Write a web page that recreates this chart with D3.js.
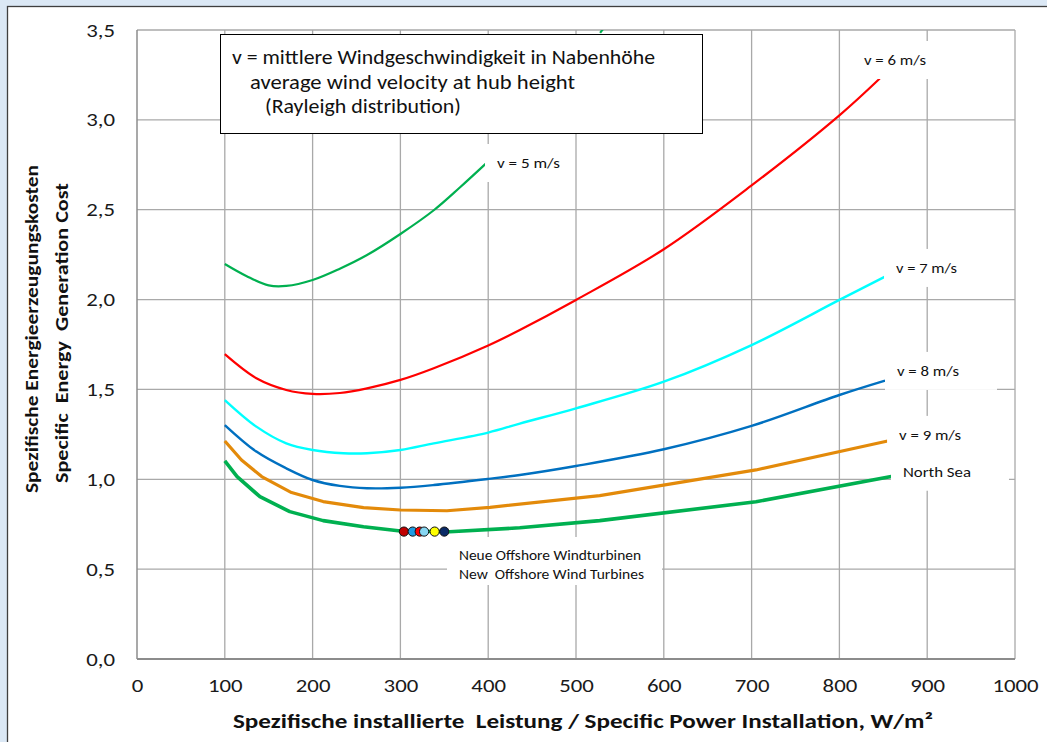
<!DOCTYPE html>
<html>
<head>
<meta charset="utf-8">
<script src="https://cdn.jsdelivr.net/npm/d3@7"></script>
<style>
  html, body { margin: 0; padding: 0; background: #dbe8f5; }
  svg { display: block; }
  text { font-family: Carlito, Calibri, Lato, "Open Sans", sans-serif; }
</style>
</head>
<body>
<svg id="chart" width="1047" height="742"></svg>
<script>
// ---------------- data ----------------
const xTicks = [0, 100, 200, 300, 400, 500, 600, 700, 800, 900, 1000];
const yTicks = [0, 0.5, 1.0, 1.5, 2.0, 2.5, 3.0, 3.5];

const v5 = [[100,2.198],[125,2.13],[150,2.079],[170,2.076],[200,2.109],[231,2.172],[262,2.248],[300,2.365],[338,2.497],[368,2.625],[397,2.755]];
const v6 = [[100,1.696],[136,1.562],[170,1.497],[200,1.475],[231,1.48],[262,1.506],[300,1.553],[338,1.618],[400,1.745],[436,1.831],[500,1.998],[600,2.28],[700,2.635],[800,3.025],[846,3.23]];
const v7 = [[100,1.441],[136,1.293],[170,1.2],[200,1.163],[235,1.145],[262,1.145],[300,1.163],[338,1.2],[400,1.26],[436,1.31],[500,1.395],[600,1.543],[700,1.747],[800,1.998],[852,2.128]];
const v8 = [[100,1.302],[136,1.154],[170,1.061],[200,0.996],[231,0.963],[262,0.95],[300,0.953],[338,0.968],[400,1.002],[436,1.024],[500,1.074],[600,1.167],[700,1.297],[800,1.469],[852,1.549]];
const v9 = [[100,1.213],[119,1.107],[142,1.015],[176,0.926],[212,0.876],[258,0.842],[300,0.829],[353,0.825],[402,0.844],[527,0.909],[705,1.052],[855,1.213]];
const northSea = [[100,1.102],[114,1.015],[140,0.903],[174,0.82],[212,0.77],[258,0.736],[300,0.712],[356,0.708],[436,0.730],[527,0.77],[705,0.875],[859,1.015]];
const stub = [[527.5,3.484],[533,3.52]];

const turbineX = [304, 314, 322, 327, 339, 350];
const turbineY = [0.709, 0.709, 0.709, 0.709, 0.709, 0.709];
const turbineColors = ["#c00000", "#1f9be2", "#ff0000", "#86d6f2", "#ffff00", "#0a2a66"];

const seriesLabels = ["v = 5 m/s", "v = 6 m/s", "v = 7 m/s", "v = 8 m/s", "v = 9 m/s", "North Sea"];
const labelX = [410, 828, 864.5, 865.6, 868, 872.4];
const labelY = [2.76, 3.333, 2.176, 1.603, 1.247, 1.042];

const legendLines = ["v = mittlere Windgeschwindigkeit in Nabenhöhe", "average wind velocity at hub height", "(Rayleigh distribution)"];
const noteLines = ["Neue Offshore Windturbinen", "New  Offshore Wind Turbines"];
const xTitle = "Spezifische installierte  Leistung / Specific Power Installation, W/m²";
const yTitle = ["Spezifische Energieerzeugungskosten", "Specific  Energy  Generation Cost"];

// ---------------- layout ----------------
const svg = d3.select("#chart");
const L = 137, R = 1015, T = 30, B = 659;
const x = d3.scaleLinear().domain([0, 1000]).range([L, R]);
const y = d3.scaleLinear().domain([0, 3.5]).range([B, T]);

function fitW(sel, w) {
  sel.attr("textLength", w).attr("lengthAdjust", "spacingAndGlyphs");
  return sel;
}

// background panel
svg.append("rect").attr("x", 0).attr("y", 0).attr("width", 1047).attr("height", 742).attr("fill", "#dbe8f5");
svg.append("rect").attr("x", 7.5).attr("y", 6.5).attr("width", 1060).attr("height", 760)
  .attr("fill", "#ffffff").attr("stroke", "#3f3f3f").attr("stroke-width", 1.3);

svg.append("defs").append("clipPath").attr("id", "plotclip")
  .append("rect").attr("x", L).attr("y", T).attr("width", R - L).attr("height", B - T);

// gridlines
const grid = svg.append("g");
grid.selectAll("line.v").data(xTicks.slice(1)).join("line")
  .attr("x1", d => x(d)).attr("x2", d => x(d)).attr("y1", T).attr("y2", B)
  .attr("stroke", "#a9a9a9").attr("stroke-width", 1.3);
grid.selectAll("line.h").data(yTicks.slice(1)).join("line")
  .attr("x1", L).attr("x2", R).attr("y1", d => y(d)).attr("y2", d => y(d))
  .attr("stroke", "#a9a9a9").attr("stroke-width", 1.3);
svg.append("line").attr("x1", L).attr("x2", L).attr("y1", T).attr("y2", B).attr("stroke", "#8c8c8c").attr("stroke-width", 1.5);
svg.append("line").attr("x1", L).attr("x2", R).attr("y1", B).attr("y2", B).attr("stroke", "#8c8c8c").attr("stroke-width", 2.2);

// axes tick labels
const fmt = d => d.toFixed(1).replace(".", ",");
const gx = svg.append("g").attr("transform", `translate(0,${B})`)
  .call(d3.axisBottom(x).tickValues(xTicks).tickSize(0).tickPadding(20).tickFormat(d3.format("d")));
const gy = svg.append("g").attr("transform", `translate(${L},0)`)
  .call(d3.axisLeft(y).tickValues(yTicks).tickSize(0).tickPadding(22).tickFormat(fmt));
[gx, gy].forEach(g => {
  g.select(".domain").remove();
  g.selectAll("text").attr("font-size", 19).attr("fill", "#1a1a1a")
    .style("font-family", "Carlito, Calibri, Lato, sans-serif")
    .each(function () {
      const w = this.getComputedTextLength();
      d3.select(this).attr("textLength", w * 1.2).attr("lengthAdjust", "spacingAndGlyphs");
    });
});

// curves
const smooth = d3.line().x(d => x(d[0])).y(d => y(d[1])).curve(d3.curveCatmullRom.alpha(0.5));
const straight = d3.line().x(d => x(d[0])).y(d => y(d[1]));
const curves = [
  {d: v5, c: "#00b050", w: 2.2, gen: smooth},
  {d: v6, c: "#ff0000", w: 2.2, gen: smooth},
  {d: v7, c: "#00ffff", w: 2.4, gen: smooth},
  {d: v8, c: "#0070c0", w: 2.4, gen: smooth},
  {d: v9, c: "#e38a0a", w: 3.2, gen: straight},
  {d: northSea, c: "#00b050", w: 3.6, gen: straight},
  {d: stub, c: "#00b050", w: 2.2, gen: straight}
];
const gc = svg.append("g").attr("clip-path", "url(#plotclip)");
curves.forEach(s => {
  gc.append("path").attr("d", s.gen(s.d)).attr("fill", "none")
    .attr("stroke", s.c).attr("stroke-width", s.w).attr("stroke-linejoin", "round");
});

// turbine dots
svg.append("g").selectAll("circle").data(turbineX).join("circle")
  .attr("cx", d => x(d)).attr("cy", (d, i) => y(turbineY[i])).attr("r", 4.6)
  .attr("fill", (d, i) => turbineColors[i]).attr("stroke", "#111").attr("stroke-width", 1);

// series labels with white boxes
const labelW = [63, 62, 61, 62, 62, 68];
const gl = svg.append("g");
seriesLabels.forEach((t, i) => {
  const px = x(labelX[i]), py = y(labelY[i]);
  const padL = 12, padR = i === 0 ? 10 : 38;
  gl.append("rect").attr("x", px - padL).attr("y", py - 19).attr("width", labelW[i] + padL + padR).attr("height", 38)
    .attr("fill", "#ffffff");
  fitW(gl.append("text").attr("x", px).attr("y", py).attr("dominant-baseline", "central")
    .attr("font-size", 14.5).attr("fill", "#111").style("white-space", "pre").text(t), labelW[i]);
});

// note under dots
const noteW = [182, 185];
const gn = svg.append("g");
gn.append("rect").attr("x", 447).attr("y", 537).attr("width", 215).attr("height", 48).attr("fill", "#fff");
noteLines.forEach((t, i) => {
  fitW(gn.append("text").attr("x", 459).attr("y", 555 + i * 19).attr("dominant-baseline", "central")
    .attr("font-size", 14.5).attr("fill", "#111").style("white-space", "pre").text(t), noteW[i]);
});

// legend box
const gleg = svg.append("g");
gleg.append("rect").attr("x", 220.5).attr("y", 34.5).attr("width", 482).attr("height", 99)
  .attr("fill", "#fff").attr("stroke", "#000").attr("stroke-width", 1);
const legX = [232, 250, 265], legY = [57, 82, 106], legW = [423, 325, 196];
legendLines.forEach((t, i) => {
  fitW(gleg.append("text").attr("x", legX[i]).attr("y", legY[i]).attr("dominant-baseline", "central")
    .attr("font-size", 19.5).attr("fill", "#111").text(t), legW[i]);
});

// axis titles
fitW(svg.append("text").attr("x", 233).attr("y", 721)
  .attr("dominant-baseline", "central").attr("font-size", 20).attr("font-weight", "bold")
  .attr("fill", "#111").style("white-space", "pre").text(xTitle), 700);
const yT = [31.7, 61.7], yLen = [328, 300];
yTitle.forEach((t, i) => {
  fitW(svg.append("text").attr("transform", `translate(${yT[i]},${i === 0 ? 493 : 483}) rotate(-90)`)
    .attr("dominant-baseline", "central")
    .attr("font-size", 17.5).attr("font-weight", "bold").attr("fill", "#111")
    .style("white-space", "pre").text(t), yLen[i]);
});
</script>
</body>
</html>
